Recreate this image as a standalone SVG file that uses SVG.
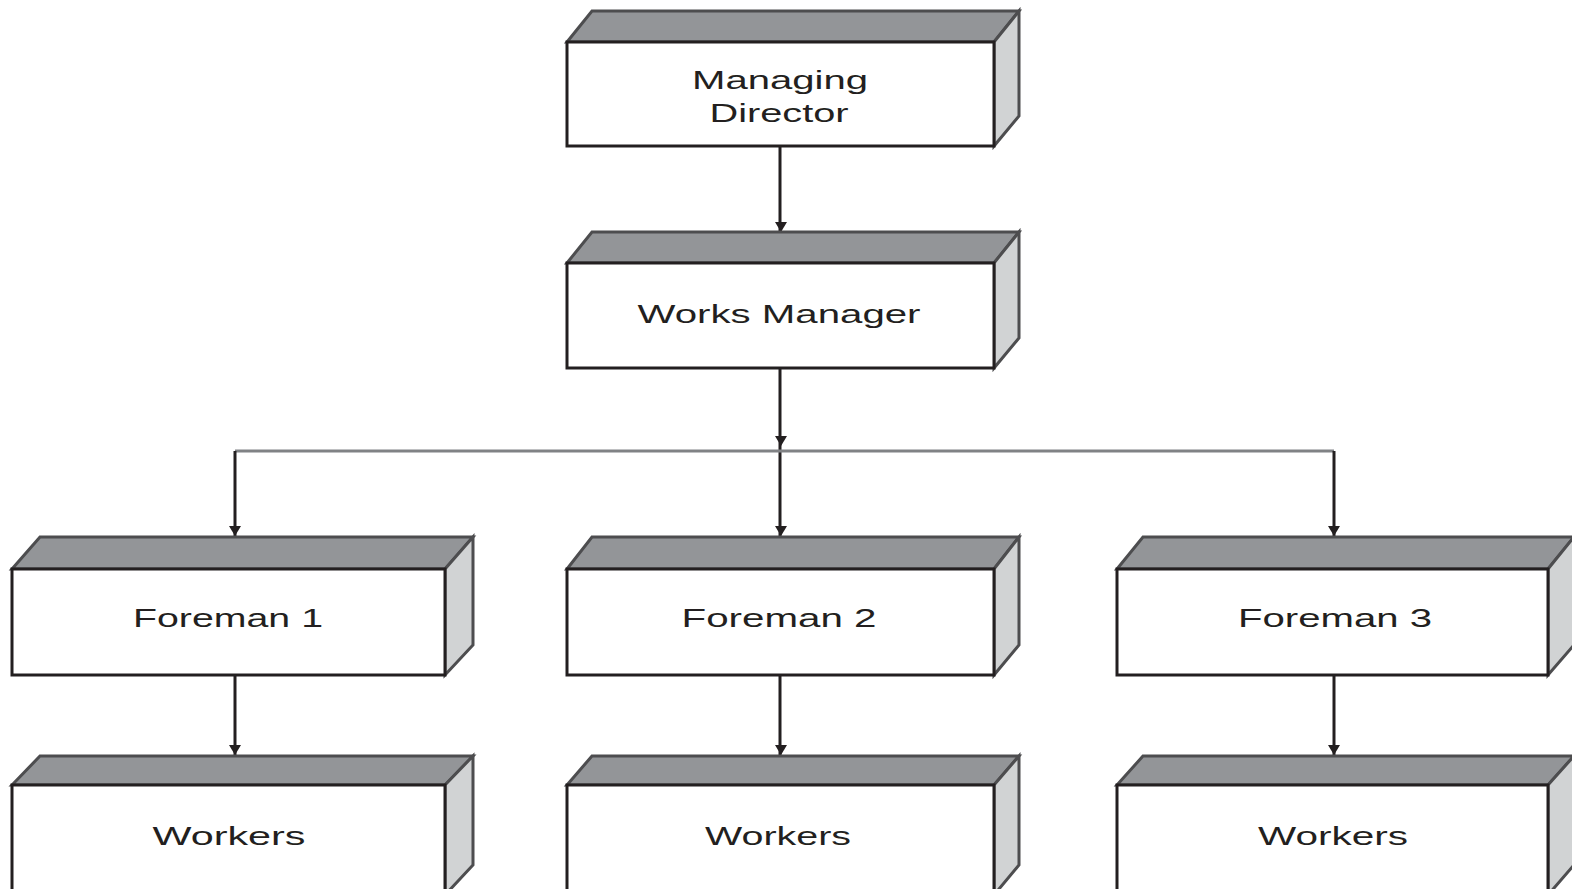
<svg xmlns="http://www.w3.org/2000/svg" width="1572" height="889" viewBox="0 0 1572 889">
<defs>
<style>
.front{fill:#ffffff;stroke:#231f20;stroke-width:3}
.top{fill:#939598;stroke:#4d4d4f;stroke-width:3;stroke-linejoin:miter}
.side{fill:#d1d3d4;stroke:#4d4d4f;stroke-width:3}
.lbl{font-family:"Liberation Sans",Arial,sans-serif;font-size:26px;fill:#231f20;text-anchor:middle}
.conn{stroke:#231f20;stroke-width:3;fill:none}
.hconn{stroke:#808285;stroke-width:3;fill:none}
.arr{fill:#231f20}
</style>
<path id="ah" d="M-6,-10 L6,-10 L0,0 Z"/>
</defs>
<g id="connectors">
<line class="conn" x1="780" y1="146" x2="780" y2="231"/>
<line class="conn" x1="780" y1="368" x2="780" y2="537"/>
<line class="hconn" x1="235" y1="451" x2="1334" y2="451"/>
<line class="conn" x1="235" y1="451" x2="235" y2="537"/>
<line class="conn" x1="1334" y1="451" x2="1334" y2="537"/>
<line class="conn" x1="235" y1="675" x2="235" y2="755"/>
<line class="conn" x1="780" y1="675" x2="780" y2="755"/>
<line class="conn" x1="1334" y1="675" x2="1334" y2="755"/>
<use href="#ah" class="arr" x="781" y="232"/>
<use href="#ah" class="arr" x="781" y="446"/>
<use href="#ah" class="arr" x="781" y="536"/>
<use href="#ah" class="arr" x="235" y="536"/>
<use href="#ah" class="arr" x="1334" y="536"/>
<use href="#ah" class="arr" x="235" y="755"/>
<use href="#ah" class="arr" x="781" y="755"/>
<use href="#ah" class="arr" x="1334" y="755"/>
</g>
<g id="managing-director">
<polygon class="top" points="567,42 592,11 1019,11 994,42"/>
<polygon class="side" points="994,42 1019,11 1019,116 994,146"/>
<rect class="front" x="567" y="42" width="427" height="104"/>
<text class="lbl" x="780" y="89" textLength="176" lengthAdjust="spacingAndGlyphs">Managing</text>
<text class="lbl" x="779" y="122" textLength="139" lengthAdjust="spacingAndGlyphs">Director</text>
</g>
<g id="works-manager">
<polygon class="top" points="567,263 592,232 1019,232 994,263"/>
<polygon class="side" points="994,263 1019,232 1019,338 994,368"/>
<rect class="front" x="567" y="263" width="427" height="105"/>
<text class="lbl" x="779" y="323" textLength="283" lengthAdjust="spacingAndGlyphs">Works Manager</text>
</g>
<g id="foreman-1">
<polygon class="top" points="12,569 40,537 473,537 445,569"/>
<polygon class="side" points="445,569 473,537 473,645 445,675"/>
<rect class="front" x="12" y="569" width="433" height="106"/>
<text class="lbl" x="228" y="627" textLength="190" lengthAdjust="spacingAndGlyphs">Foreman 1</text>
</g>
<g id="foreman-2">
<polygon class="top" points="567,569 592,537 1019,537 994,569"/>
<polygon class="side" points="994,569 1019,537 1019,645 994,675"/>
<rect class="front" x="567" y="569" width="427" height="106"/>
<text class="lbl" x="779" y="627" textLength="195" lengthAdjust="spacingAndGlyphs">Foreman 2</text>
</g>
<g id="foreman-3">
<polygon class="top" points="1117,569 1143,537 1574,537 1548,569"/>
<polygon class="side" points="1548,569 1574,537 1574,645 1548,675"/>
<rect class="front" x="1117" y="569" width="431" height="106"/>
<text class="lbl" x="1335" y="627" textLength="194" lengthAdjust="spacingAndGlyphs">Foreman 3</text>
</g>
<g id="workers-1">
<polygon class="top" points="12,785 40,756 473,756 445,785"/>
<polygon class="side" points="445,785 473,756 473,865 445,895"/>
<rect class="front" x="12" y="785" width="433" height="110"/>
<text class="lbl" x="229" y="845" textLength="153" lengthAdjust="spacingAndGlyphs">Workers</text>
</g>
<g id="workers-2">
<polygon class="top" points="567,785 592,756 1019,756 994,785"/>
<polygon class="side" points="994,785 1019,756 1019,865 994,895"/>
<rect class="front" x="567" y="785" width="427" height="110"/>
<text class="lbl" x="778" y="845" textLength="146" lengthAdjust="spacingAndGlyphs">Workers</text>
</g>
<g id="workers-3">
<polygon class="top" points="1117,785 1143,756 1574,756 1548,785"/>
<polygon class="side" points="1548,785 1574,756 1574,865 1548,895"/>
<rect class="front" x="1117" y="785" width="431" height="110"/>
<text class="lbl" x="1333" y="845" textLength="150" lengthAdjust="spacingAndGlyphs">Workers</text>
</g>
</svg>
